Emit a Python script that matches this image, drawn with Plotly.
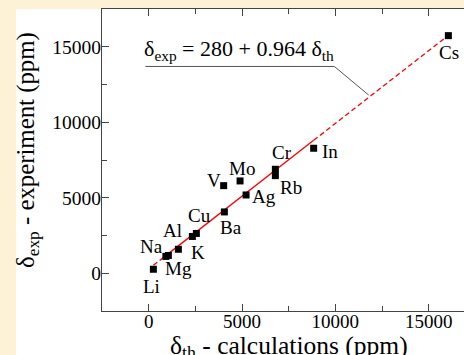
import plotly.graph_objects as go

# ---- data ----
elements = ["Li", "Na", "Mg", "K", "Al", "Cu", "Ba", "V", "Mo", "Ag", "Cr", "Rb", "In", "Cs"]
delta_th = [252, 921, 1055, 1591, 2341, 2555, 4055, 4018, 4896, 5218, 6787, 6787, 8839, 16055]
delta_exp = [265, 1113, 1179, 1589, 2437, 2636, 4060, 5801, 6113, 5185, 6887, 6464, 8278, 15735]

fit_intercept = 280
fit_slope = 0.964
fit_solid_range = [921, 8839]          # fitted range (solid)
fit_full_range = [252, 16055]          # extrapolated (dashed)

x_ticks = [0, 5000, 10000, 15000]
y_ticks = [0, 5000, 10000, 15000]

# label offsets (px): (dx right, dy up)
label_offsets = {
    "Li": (-2, -17), "Na": (-14, 10), "Mg": (10, -13), "K": (20, -3),
    "Al": (-20, 6), "Cu": (3, 18), "Ba": (7, -16), "V": (-10, 5),
    "Mo": (2, 12), "Ag": (18, -2), "Cr": (7, 17), "Rb": (16, -12),
    "In": (16, -3), "Cs": (1, -17),
}

W, H = 464, 355
L, T, B, R = 102, 9, 44, 0
pw, ph = W - L - R, H - T - B
FONT = "Liberation Serif, Times New Roman, serif"
BG = "#FEF2D6"
AX = "#444444"


def fit(x):
    return fit_intercept + fit_slope * x


def px_to_paper_x(px):
    return (px - L) / pw


def px_to_paper_y(py):
    return (H - B - py) / ph


fig = go.Figure()

# dashed extrapolations
fig.add_trace(go.Scatter(
    x=[fit_full_range[0], fit_solid_range[0]], y=[fit(fit_full_range[0]), fit(fit_solid_range[0])],
    mode="lines", line=dict(color="#FF0000", width=1.3, dash="5px,3px"), showlegend=False, hoverinfo="skip"))
fig.add_trace(go.Scatter(
    x=[fit_solid_range[1], fit_full_range[1]], y=[fit(fit_solid_range[1]), fit(fit_full_range[1])],
    mode="lines", line=dict(color="#FF0000", width=1.3, dash="5px,3px"), showlegend=False, hoverinfo="skip"))
# solid fit
fig.add_trace(go.Scatter(
    x=fit_solid_range, y=[fit(v) for v in fit_solid_range],
    mode="lines", line=dict(color="#FF0000", width=1.3), showlegend=False, hoverinfo="skip"))

# data points
fig.add_trace(go.Scatter(
    x=delta_th, y=delta_exp, mode="markers",
    marker=dict(symbol="square", size=7, color="black", line=dict(width=0)),
    showlegend=False))

annotations = []
for el, xv, yv in zip(elements, delta_th, delta_exp):
    dx, dy = label_offsets[el]
    annotations.append(dict(x=xv, y=yv, xref="x", yref="y", text=el, showarrow=False,
                            xshift=dx, yshift=dy, font=dict(family=FONT, size=19, color="black")))

# equation
annotations.append(dict(
    x=px_to_paper_x(142), y=px_to_paper_y(50), xref="paper", yref="paper",
    xanchor="left", yanchor="middle", showarrow=False,
    text="δ<sub>exp</sub> = 280 + 0.964 δ<sub>th</sub>",
    font=dict(family=FONT, size=22, color="black")))

# axis titles
annotations.append(dict(
    x=px_to_paper_x(289), y=px_to_paper_y(347), xref="paper", yref="paper",
    xanchor="center", yanchor="middle", showarrow=False,
    text="δ<sub>th</sub> - calculations (ppm)",
    font=dict(family=FONT, size=25.5, color="black")))
annotations.append(dict(
    x=px_to_paper_x(27), y=px_to_paper_y(150), xref="paper", yref="paper",
    xanchor="center", yanchor="middle", showarrow=False, textangle=-90,
    text="δ<sub>exp</sub> - experiment (ppm)",
    font=dict(family=FONT, size=24.8, color="black")))

shapes = [
    # white page area
    dict(type="rect", xref="paper", yref="paper", layer="below",
         x0=px_to_paper_x(16), x1=px_to_paper_x(W + 5), y0=px_to_paper_y(9), y1=px_to_paper_y(H + 5),
         fillcolor="white", line=dict(width=0)),
    # leader line of the equation
    dict(type="path", xref="x", yref="y",
         path="M -177 13695 L 9948 13695 L 11786 11800",
         line=dict(color="#555555", width=1)),
]

fig.update_layout(
    width=W, height=H,
    margin=dict(l=L, r=R, t=T, b=B, pad=0),
    paper_bgcolor=BG, plot_bgcolor="white",
    font=dict(family=FONT, size=19, color="black"),
    annotations=annotations, shapes=shapes,
    xaxis=dict(range=[-2500, -2500 + pw / (280 / 15000)], tickvals=x_ticks, ticktext=[str(v) for v in x_ticks],
               ticks="inside", ticklen=7, tickcolor=AX, showline=True, linecolor=AX, linewidth=1,
               mirror="ticks", showgrid=False, zeroline=False, ticklabelstandoff=-7,
               minor=dict(dtick=2500, tick0=0, ticks="inside", ticklen=5, tickcolor=AX, showgrid=False),
               tickfont=dict(family=FONT, size=19, color="black")),
    yaxis=dict(range=[-2500, 17500], tickvals=y_ticks, ticktext=[str(v) for v in y_ticks],
               ticks="inside", ticklen=7, tickcolor=AX, showline=True, linecolor=AX, linewidth=1,
               mirror=False, showgrid=False, zeroline=False, ticklabelstandoff=-4,
               minor=dict(dtick=2500, tick0=0, ticks="inside", ticklen=5, tickcolor=AX, showgrid=False),
               tickfont=dict(family=FONT, size=19.5, color="black")),
)

fig.write_html("out.html", config={"displayModeBar": False},
               post_script="document.body.style.margin='0';document.body.style.overflow='hidden';")
